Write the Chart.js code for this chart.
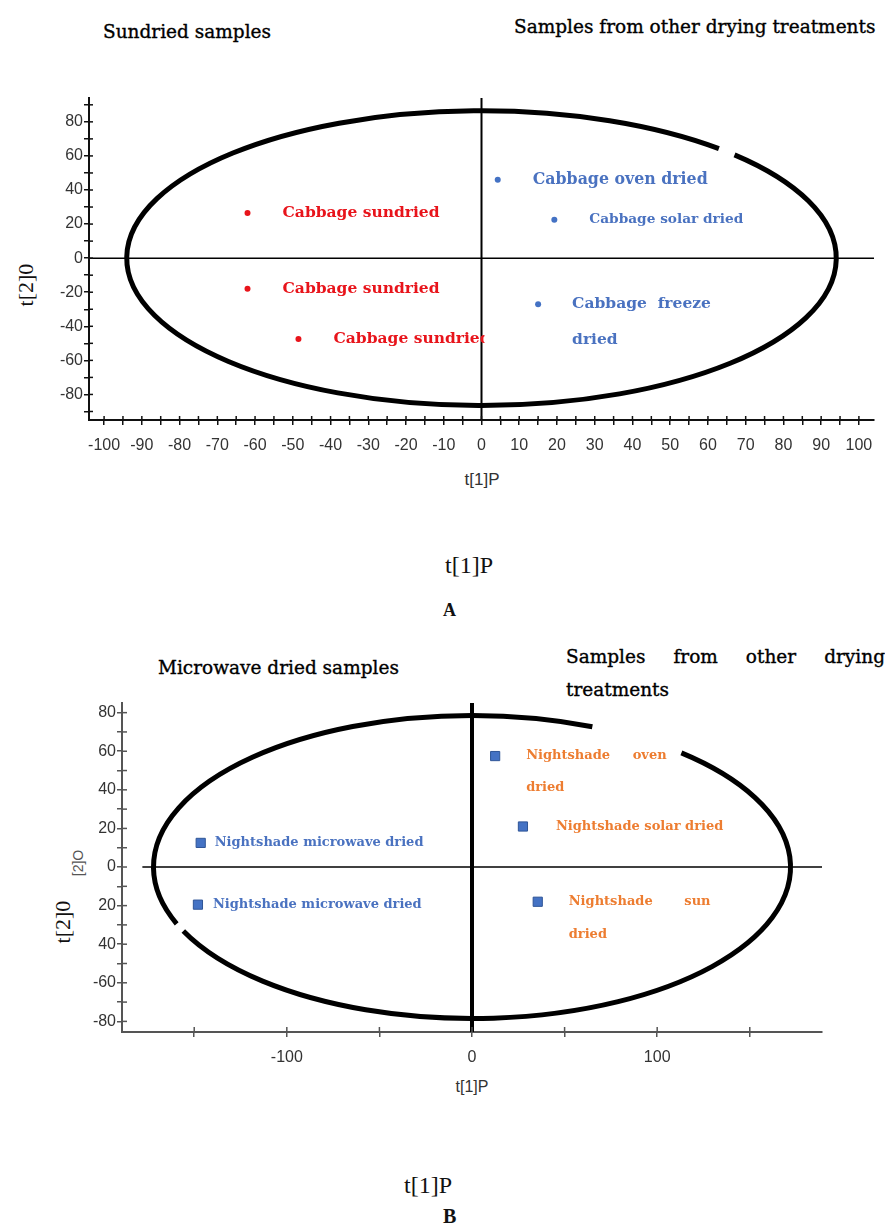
<!DOCTYPE html>
<html>
<head>
<meta charset="utf-8">
<script src="https://cdn.jsdelivr.net/npm/chart.js@4.4.0/dist/chart.umd.min.js"></script>
<style>
  body { margin: 0; background: #fff; }
  #pagina { position: relative; width: 885px; height: 1224px; overflow: hidden; background: #fff; }
  .txt { position: absolute; white-space: nowrap; color: #111; }
  .titulo { font-family: 'DejaVu Serif', serif; font-size: 18.5px; line-height: 22px; color: #000; -webkit-text-stroke: 0.35px #000; }
  .serif { font-family: 'Liberation Serif', 'Times New Roman', serif; }
  .sans { font-family: 'Liberation Sans', Arial, sans-serif; color: #333; }
  .caixa { position: absolute; left: 0; }
</style>
</head>
<body>
<div id="pagina">
  <!-- textos da figura A -->
  <div class="txt titulo" style="left:103px; top:21px;">Sundried samples</div>
  <div class="txt titulo" style="left:514px; top:16px;">Samples from other drying treatments</div>
  <div class="txt serif" style="left:-2px; top:273px; width:56px; font-size:22px; line-height:24px; text-align:center; transform:rotate(-90deg);">t[2]0</div>
  <div class="txt sans" style="left:458px; top:469px; width:48px; font-size:17px; line-height:22px; text-align:center;">t[1]P</div>
  <div class="txt serif" style="left:445px; top:552px; font-size:24px; line-height:26px;">t[1]P</div>
  <div class="txt serif" style="left:443px; top:600px; font-size:18px; line-height:20px; font-weight:bold;">A</div>

  <!-- textos da figura B -->
  <div class="txt titulo" style="left:158px; top:657px;">Microwave dried samples</div>
  <div class="txt titulo" style="left:566px; top:646px; width:319px; text-align:justify; text-align-last:justify;">Samples from other drying</div>
  <div class="txt titulo" style="left:566px; top:679px;">treatments</div>
  <div class="txt sans" style="left:58px; top:854px; width:40px; font-size:14px; line-height:18px; text-align:center; color:#555; transform:rotate(-90deg);">[2]O</div>
  <div class="txt serif" style="left:35px; top:910px; width:56px; font-size:22px; line-height:24px; text-align:center; transform:rotate(-90deg);">t[2]0</div>
  <div class="txt sans" style="left:448px; top:1076px; width:48px; font-size:16px; line-height:22px; text-align:center;">t[1]P</div>
  <div class="txt serif" style="left:404px; top:1172px; font-size:24px; line-height:26px;">t[1]P</div>
  <div class="txt serif" style="left:443px; top:1205px; font-size:20px; line-height:22px; font-weight:bold;">B</div>

  <div class="caixa" style="top:80px;"><canvas id="graficoA" width="885" height="430"></canvas></div>
  <div class="caixa" style="top:690px;"><canvas id="graficoB" width="885" height="420"></canvas></div>
</div>

<script>
// --- Dados da figura A (repolho) ---
const repolhoSolX = [-62, -62, -48.5];
const repolhoSolY = [26.5, -18, -47.5];
const repolhoSolRotulos = [['Cabbage sundried'], ['Cabbage sundried'], ['Cabbage sundried']];

const repolhoOutrosX = [4.3, 19.3, 15];
const repolhoOutrosY = [46, 22.5, -27];
const repolhoOutrosRotulos = [['Cabbage oven dried'], ['Cabbage solar dried'], ['Cabbage  freeze', 'dried']];

// limites dos eixos e elipse de confiança (A)
const eixoXA = [-104, 104];
const eixoYA = [-95, 94];
const elipseA = [94, 86.5];

// --- Dados da figura B (erva-moura) ---
const ervaMicroX = [-146.5, -148];
const ervaMicroY = [12.5, -19.5];
const ervaMicroRotulos = [['Nightshade microwave dried'], ['Nightshade microwave dried']];

const ervaOutrosX = [12.5, 27.5, 35.5];
const ervaOutrosY = [57.5, 21, -18];
const ervaOutrosRotulos = [['Nightshade     oven', 'dried'], ['Nightshade solar dried'], ['Nightshade       sun', 'dried']];

const eixoXB = [-189, 189];
const eixoYB = [-85.5, 85];
const elipseB = [172, 78.5];
// rótulos do eixo y como aparecem na figura original
const ticksYB = [80, 60, 40, 20, 0, -20, -40, -60, -80];
const textosYB = ['80', '60', '40', '20', '0', '20', '40', '-60', '-80'];

const pontos = (xs, ys) => xs.map((v, i) => ({ x: v, y: ys[i] }));
const fonteEixo = "'Liberation Sans', Arial, sans-serif";

// Plugin: linhas do zero e elipse
const elipsePlugin = {
    id: 'elipse',
    beforeDatasetsDraw(chart, args, o) {
        const { ctx, chartArea: a, scales: { x, y } } = chart;
        const cx = x.getPixelForValue(0), cy = y.getPixelForValue(0);
        ctx.save();
        ctx.strokeStyle = '#000';
        ctx.lineWidth = o.hLargura;
        ctx.beginPath();
        ctx.moveTo(x.getPixelForValue(o.hInicio), cy);
        ctx.lineTo(a.right, cy);
        ctx.stroke();
        ctx.lineWidth = o.vLargura;
        ctx.beginPath();
        ctx.moveTo(cx, a.top);
        ctx.lineTo(cx, a.bottom);
        ctx.stroke();
        const rx = x.getPixelForValue(o.raios[0]) - cx;
        const ry = cy - y.getPixelForValue(o.raios[1]);
        ctx.lineWidth = o.largura;
        o.arcos.forEach(([ini, fim]) => {
            ctx.beginPath();
            ctx.ellipse(cx, cy, rx, ry, 0, ini * Math.PI / 180, fim * Math.PI / 180);
            ctx.stroke();
        });
        ctx.restore();
    }
};

// Plugin: metade interna dos ticks (forma de "+")
const cruzPlugin = {
    id: 'cruz',
    afterDraw(chart, args, o) {
        const { ctx, chartArea: a, scales: { x, y } } = chart;
        ctx.save();
        ctx.strokeStyle = o.cor;
        ctx.lineWidth = 1.5;
        x.ticks.forEach(t => {
            const p = x.getPixelForValue(t.value);
            ctx.beginPath(); ctx.moveTo(p, a.bottom); ctx.lineTo(p, a.bottom - o.tam); ctx.stroke();
        });
        y.ticks.forEach(t => {
            const p = y.getPixelForValue(t.value);
            ctx.beginPath(); ctx.moveTo(a.left, p); ctx.lineTo(a.left + o.tam, p); ctx.stroke();
        });
        ctx.restore();
    }
};

// Plugin: textos ao lado dos pontos
const rotulosPlugin = {
    id: 'rotulos',
    afterDatasetsDraw(chart, args, o) {
        const ctx = chart.ctx;
        const cx = chart.scales.x.getPixelForValue(0);
        o.grupos.forEach(g => {
            const meta = chart.getDatasetMeta(g.dataset);
            meta.data.forEach((el, i) => {
                const est = g.estilos[i];
                ctx.save();
                if (est.corta) {
                    ctx.beginPath();
                    ctx.rect(0, 0, cx + 3, chart.height);
                    ctx.clip();
                }
                ctx.fillStyle = g.cor;
                ctx.font = 'bold ' + est.tam + "px 'DejaVu Serif', serif";
                ctx.textBaseline = 'middle';
                g.textos[i].forEach((linha, k) => {
                    ctx.fillText(linha, el.x + est.dx, el.y + k * est.entre);
                });
                ctx.restore();
            });
        });
    }
};

function escalas(cfg) {
    return {
        x: {
            type: 'linear', min: cfg.x[0], max: cfg.x[1],
            afterBuildTicks: s => { s.ticks = s.ticks.filter(t => t.value % cfg.passoX === 0); },
            afterFit: s => { s.height = cfg.altX; },
            ticks: {
                stepSize: cfg.passoX, includeBounds: false, autoSkip: false, maxRotation: 0, padding: cfg.padX,
                color: '#333', font: { family: fonteEixo, size: cfg.fonte },
                callback: v => (v % cfg.rotuloX === 0 ? v : '')
            },
            grid: { drawOnChartArea: false, tickLength: 5, color: cfg.corEixo, lineWidth: 1.5 },
            border: { color: cfg.corEixo, width: 2 }
        },
        y: {
            type: 'linear', min: cfg.y[0], max: cfg.y[1],
            afterBuildTicks: s => { s.ticks = s.ticks.filter(t => t.value % 10 === 0); },
            afterFit: s => { s.width = cfg.largY; },
            ticks: {
                stepSize: 10, includeBounds: false, autoSkip: false, padding: 1,
                color: '#333', font: { family: fonteEixo, size: cfg.fonte },
                callback: cfg.rotuloY
            },
            grid: { drawOnChartArea: false, tickLength: 5, color: cfg.corEixo, lineWidth: 1.5 },
            border: { color: cfg.corEixo, width: 2 }
        }
    };
}

document.addEventListener('DOMContentLoaded', function() {

    // --- Figura A ---
    new Chart(document.getElementById('graficoA').getContext('2d'), {
        type: 'scatter',
        data: {
            datasets: [
                { data: pontos(repolhoSolX, repolhoSolY), backgroundColor: '#E8141B', borderWidth: 0, pointRadius: 3 },
                { data: pontos(repolhoOutrosX, repolhoOutrosY), backgroundColor: '#4472C4', borderWidth: 0, pointRadius: 3 }
            ]
        },
        options: {
            responsive: false,
            animation: false,
            events: [],
            layout: { padding: { top: 18, right: 11, left: 0, bottom: 0 } },
            scales: escalas({
                x: eixoXA, y: eixoYA, passoX: 5, rotuloX: 10, altX: 90, padX: 11,
                largY: 89, fonte: 16, corEixo: '#111',
                rotuloY: v => (v % 20 === 0 ? v : '')
            }),
            plugins: {
                legend: { display: false },
                tooltip: { enabled: false },
                elipse: { raios: elipseA, largura: 5, hLargura: 1.5, vLargura: 2, hInicio: eixoXA[0], arcos: [[-44.5, 312]] },
                cruz: { cor: '#111', tam: 4 },
                rotulos: {
                    grupos: [
                        { dataset: 0, cor: '#E8141B', textos: repolhoSolRotulos,
                          estilos: [{ dx: 35, tam: 15.5, entre: 0 }, { dx: 35, tam: 15.5, entre: 0 }, { dx: 35, tam: 15.5, entre: 0, corta: true }] },
                        { dataset: 1, cor: '#4A72C0', textos: repolhoOutrosRotulos,
                          estilos: [{ dx: 35, tam: 15.8, entre: 0 }, { dx: 35, tam: 13.7, entre: 0 }, { dx: 34, tam: 15.5, entre: 36 }] }
                    ]
                }
            }
        },
        plugins: [elipsePlugin, cruzPlugin, rotulosPlugin]
    });

    // --- Figura B ---
    new Chart(document.getElementById('graficoB').getContext('2d'), {
        type: 'scatter',
        data: {
            datasets: [
                { data: pontos(ervaMicroX, ervaMicroY), pointStyle: 'rect', backgroundColor: '#4472C4', borderColor: '#2F5597', borderWidth: 1, pointRadius: 6.5 },
                { data: pontos(ervaOutrosX, ervaOutrosY), pointStyle: 'rect', backgroundColor: '#4472C4', borderColor: '#2F5597', borderWidth: 1, pointRadius: 6.5 }
            ]
        },
        options: {
            responsive: false,
            animation: false,
            events: [],
            layout: { padding: { top: 13, right: 63, left: 0, bottom: 0 } },
            scales: escalas({
                x: eixoXB, y: eixoYB, passoX: 50, rotuloX: 100, altX: 78, padX: 11,
                largY: 122, fonte: 16, corEixo: '#555',
                rotuloY: v => { const i = ticksYB.indexOf(v); return i >= 0 ? textosYB[i] : ''; }
            }),
            plugins: {
                legend: { display: false },
                tooltip: { enabled: false },
                elipse: { raios: elipseB, largura: 5, hLargura: 1.5, vLargura: 4, hInicio: -178, arcos: [[-48.9, 155], [158, 292.2]] },
                cruz: { cor: '#555', tam: 5 },
                rotulos: {
                    grupos: [
                        { dataset: 0, cor: '#4A72C0', textos: ervaMicroRotulos,
                          estilos: [{ dx: 14, tam: 13, entre: 0 }, { dx: 15, tam: 13, entre: 0 }] },
                        { dataset: 1, cor: '#ED7D31', textos: ervaOutrosRotulos,
                          estilos: [{ dx: 31, tam: 13, entre: 32 }, { dx: 33, tam: 13, entre: 0 }, { dx: 31, tam: 13, entre: 33 }] }
                    ]
                }
            }
        },
        plugins: [elipsePlugin, cruzPlugin, rotulosPlugin]
    });
});
</script>
</body>
</html>
